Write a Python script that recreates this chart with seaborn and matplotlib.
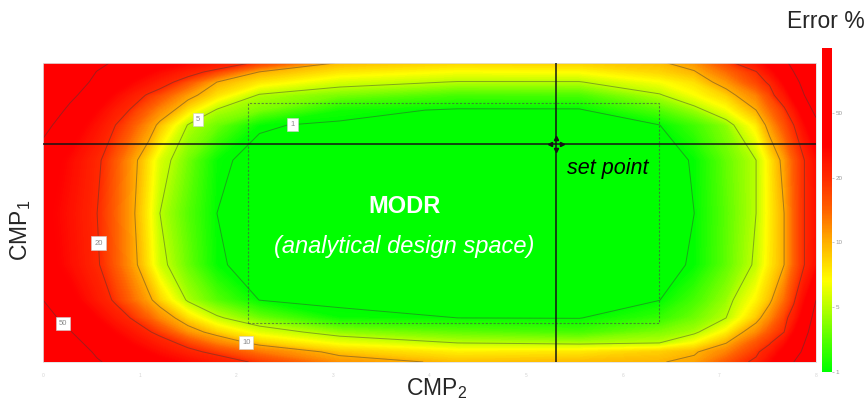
import numpy as np
import matplotlib
matplotlib.use("Agg")
import matplotlib.pyplot as plt
import matplotlib.transforms as mtransforms
from matplotlib.colors import LinearSegmentedColormap, FuncNorm
from matplotlib.patches import Rectangle
import seaborn as sns

# ---- data -------------------------------------------------------------
# CMP2 grid positions (x) and CMP1 grid positions (y, listed top row first)
cmp2 = [0.00, 0.28, 0.56, 0.75, 0.95, 1.09, 1.21, 1.50, 1.80, 2.24, 3.07,
        4.29, 5.55, 6.38, 6.74, 7.07, 7.38, 7.52, 7.67, 7.77, 7.88, 8.00]
cmp1 = [8.00, 7.76, 7.49, 7.14, 6.74, 6.34, 5.40, 3.98, 2.60, 1.66, 1.18,
        0.80, 0.51, 0.27, 0.00]

# Error % on the grid, one row per cmp1 value (same order as cmp1)
error_pct = [
    [85, 69.8, 54.5, 47.7, 43.8, 41.1, 38.6, 32.8, 26.8, 18, 9.5, 8.5, 8.7, 9.5, 11.7, 17, 28, 37.3, 46.7, 54.2, 60, 72],
    [80, 64.4, 49.4, 44, 38.6, 34.9, 31.4, 23.4, 17.1, 9.9, 7.8, 6.8, 7, 8.5, 9.7, 14.2, 19.5, 29.4, 41.4, 50, 60, 70],
    [75, 59.3, 46.1, 39.3, 32.5, 27.9, 23.6, 16.2, 10, 7.8, 5.8, 4.9, 4.9, 6.8, 8.1, 11.4, 17.4, 21, 35, 45, 54.7, 65],
    [70, 53.6, 40.6, 32.1, 23.6, 19, 16.6, 11, 8, 4.8, 3.7, 2.6, 2.7, 4.8, 6.8, 8.7, 12.8, 17.2, 26, 38, 50, 60],
    [62, 46.7, 33.8, 24.8, 18, 15, 12.3, 7.9, 4.8, 3.7, 1.4, 0.85, 0.85, 2.9, 4.3, 6.6, 10, 14.2, 18.5, 26.7, 40, 55],
    [55, 40.9, 28.6, 20, 15.1, 11.8, 9.2, 4.9, 3.5, 1.08, 0.85, 0.65, 0.7, 0.98, 2.5, 4.1, 7.6, 11.1, 16.3, 20, 31.9, 45],
    [42, 31.6, 21.2, 15.7, 10.5, 8.0, 5.9, 3.6, 1.15, 0.75, 0.55, 0.45, 0.55, 0.75, 1.05, 3.3, 5, 7.7, 10.9, 15.5, 20, 30],
    [38, 29, 20, 15, 10, 7.4, 5, 3.0, 1, 0.81, 0.5, 0.4, 0.5, 0.85, 1, 3.1, 5, 7.5, 10, 15, 20, 28],
    [40, 30.4, 20.7, 15.5, 10.5, 7.9, 5.6, 3.4, 1.1, 0.7, 0.55, 0.45, 0.55, 0.85, 1.05, 3.2, 5.3, 7.7, 10, 15, 20, 30],
    [50, 37.9, 25.8, 18.5, 13.7, 10.7, 8.6, 4.7, 3.0, 0.97, 0.85, 0.8, 0.8, 0.97, 2.6, 4.3, 7.3, 9.3, 14.1, 18.6, 32, 50],
    [55, 45.6, 33.7, 25.3, 18.3, 15.1, 12.2, 8.1, 5.3, 3.5, 1.2, 1.0, 0.95, 2.2, 3.5, 5, 8.9, 12.2, 17.4, 24.5, 39.5, 56],
    [60, 50.7, 40.4, 33.1, 25.8, 20.8, 17.8, 11.6, 8.7, 6.1, 4.1, 3.2, 2.6, 3.8, 4.6, 7.4, 12, 16, 20, 33, 46, 58],
    [65, 54.6, 44.9, 38.5, 32.1, 27.8, 23.7, 17.3, 12.8, 8.9, 6.5, 5.0, 4.6, 5.0, 7.0, 9.9, 16.1, 19.1, 30, 40, 50, 60],
    [70, 58.5, 48, 42.6, 37.3, 33.6, 30.2, 22.3, 17.8, 13.4, 9.0, 7.5, 7.8, 8.8, 9.6, 12.8, 18.5, 25, 37, 45.7, 52, 62],
    [75, 63.2, 51.3, 46.6, 42.5, 39.7, 37.1, 31.1, 24.9, 18.3, 11.7, 9.3, 9.5, 9.8, 10.8, 15.7, 21.5, 32, 42.5, 50, 56, 65],
]

# contour levels (also the colour bar ticks) and the colour scale stops
contour_levels = [1, 5, 10, 20, 50]
scale_values = [1, 5, 10, 20, 50, 100]

# set point and MODR (analytical design space) box
setpoint_cmp2, setpoint_cmp1 = 5.31, 5.83
modr_cmp2 = (2.12, 6.38)
modr_cmp1 = (1.04, 6.93)

# contour label anchor points (cmp2, cmp1)
label_points = [(2.58, 6.45), (1.60, 6.50), (0.55, 3.18), (0.20, 1.02), (2.10, 0.48)]

axis_ticks = list(range(9))

# ---- styling ------------------------------------------------------------
sns.set_style("white")
plt.rcParams["font.family"] = ["Liberation Sans", "DejaVu Sans"]
plt.rcParams["mathtext.fontset"] = "custom"
plt.rcParams["mathtext.rm"] = "Liberation Sans"
plt.rcParams["mathtext.it"] = "Liberation Sans:italic"
plt.rcParams["mathtext.default"] = "regular"

scale_pos = np.linspace(0, 1, len(scale_values))


def to_pos(v):
    return np.interp(v, scale_values, scale_pos)


def from_pos(p):
    return np.interp(p, scale_pos, scale_values)


norm = FuncNorm((to_pos, from_pos), vmin=scale_values[0], vmax=scale_values[-1])
cmap = LinearSegmentedColormap.from_list(
    "err",
    [(0.00, "#00ff00"), (0.10, "#55ff00"), (0.20, "#b8ff00"), (0.28, "#ffff00"),
     (0.40, "#ffb000"), (0.50, "#ff6200"), (0.60, "#ff2a00"), (0.70, "#ff0000"),
     (1.00, "#ff0000")])

X = np.array(cmp2)
Y = np.array(cmp1)[::-1]
Z = np.array(error_pct)[::-1]

fig = plt.figure(figsize=(8.68, 4.01), dpi=100)
ax = fig.add_axes([43 / 868, 39 / 401, 773 / 868, 299 / 401])
cax = fig.add_axes([822 / 868, 29 / 401, 10 / 868, 324 / 401])

fill_levels = np.concatenate([[0.0], from_pos(np.linspace(0, 1, 201))])
cf = ax.contourf(X, Y, Z, levels=fill_levels, cmap=cmap, norm=norm)
cf.set_edgecolor("face")
cf.set_linewidth(0.3)

cl = ax.contour(X, Y, Z, levels=contour_levels, colors="#3a3a3a",
                linewidths=0.7, alpha=0.45)
labels = ax.clabel(cl, fmt="%d", manual=label_points, fontsize=5.5,
                   inline=True, inline_spacing=3)
for t in labels:
    t.set_rotation(0)
    t.set_color("#8a8a8a")
    t.set_bbox(dict(boxstyle="square,pad=0.4", facecolor="white",
                    edgecolor="#cccccc", linewidth=0.4))

# MODR box
ax.add_patch(Rectangle((modr_cmp2[0], modr_cmp1[0]),
                       modr_cmp2[1] - modr_cmp2[0], modr_cmp1[1] - modr_cmp1[0],
                       fill=False, edgecolor="#4a4a4a", linewidth=0.8,
                       linestyle=(0, (2, 1.5)), alpha=0.65, zorder=3))

# set point cross-hair
ax.axhline(setpoint_cmp1, color="#151515", linewidth=1.1, zorder=4)
ax.axvline(setpoint_cmp2, color="#151515", linewidth=1.1, zorder=4)
for mk, dx, dy in [("^", 0, 4.2), ("v", 0, -4.2), ("<", -4.5, 0), (">", 4.5, 0)]:
    tr = mtransforms.offset_copy(ax.transData, fig=fig, x=dx, y=dy, units="points")
    ax.plot([setpoint_cmp2], [setpoint_cmp1], marker=mk, markersize=3.0,
            color="#151515", transform=tr, zorder=5)

ax.text(3.74, 4.15, "MODR", color="white", fontsize=17, fontweight="bold",
        ha="center", va="center", zorder=6)
ax.text(3.74, 3.10, "(analytical design space)", color="white", fontsize=17,
        fontstyle="italic", ha="center", va="center", zorder=6)
ax.text(5.42, 5.19, "set point", color="black", fontsize=15.5,
        fontstyle="italic", ha="left", va="center", zorder=6)

ax.set_xlim(0, 8)
ax.set_ylim(0, 8)
ax.set_xticks(axis_ticks)
ax.set_yticks(axis_ticks)
ax.set_xticklabels([str(v) for v in axis_ticks], fontsize=3.5, color="#d4d4d4")
ax.set_yticklabels([])
ax.tick_params(axis="both", length=2, width=0.5, color="#d8d8d8", pad=6)
for s in ax.spines.values():
    s.set_color("#e0e0e0")
    s.set_linewidth(0.6)

fig.text(437 / 868, 1 - 389 / 401, "CMP$_2$", fontsize=16.5, ha="center", va="center")
fig.text(21 / 868, 1 - 230 / 401, "CMP$_1$", fontsize=16.5, rotation=90,
         ha="center", va="center")

sm = matplotlib.cm.ScalarMappable(norm=norm, cmap=cmap)
cb = fig.colorbar(sm, cax=cax)
cb.set_ticks(contour_levels)
cb.set_ticklabels([str(v) for v in contour_levels])
cb.ax.tick_params(labelsize=4.5, colors="#999999", length=1.5, width=0.4, pad=1)
cb.outline.set_visible(False)
fig.text(826 / 868, 1 - 22 / 401, "Error %", fontsize=16.5, ha="center", va="center")

fig.savefig("out.png", dpi=100)
